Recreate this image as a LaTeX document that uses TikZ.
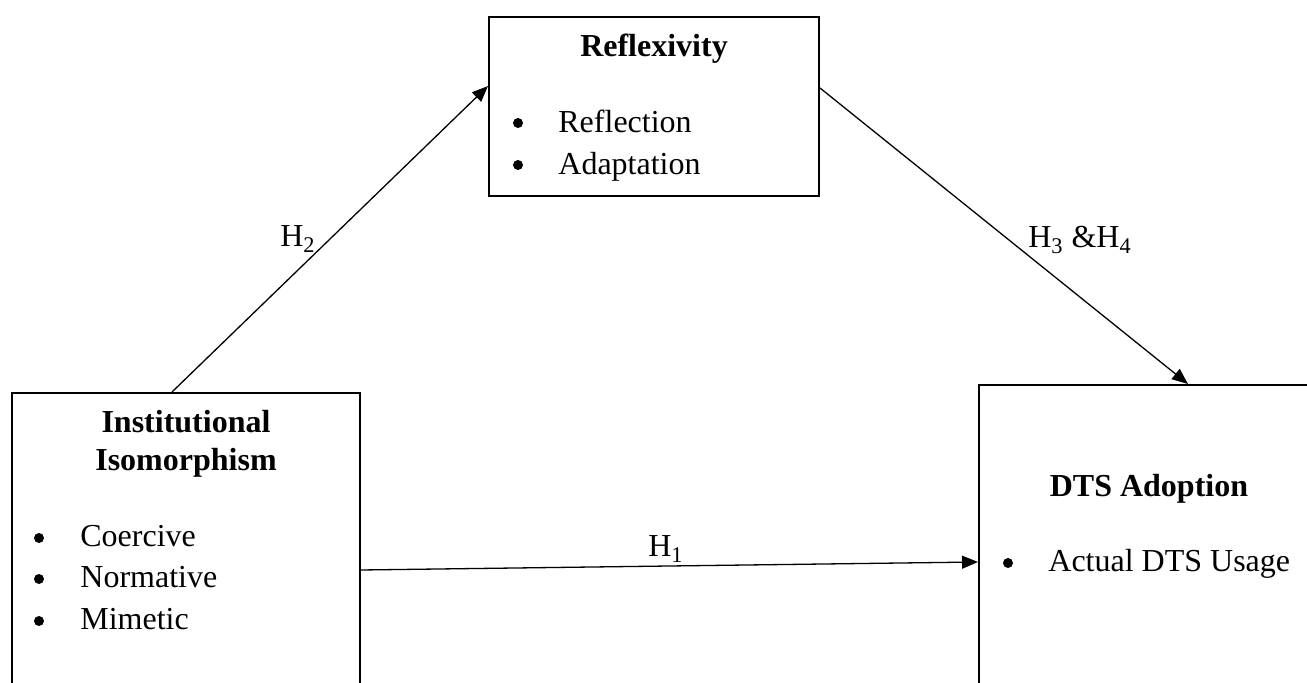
\documentclass[tikz,border=0pt]{standalone}
\usepackage{fontspec}
\setmainfont{Liberation Serif}
\usetikzlibrary{calc,arrows.meta}
\tikzset{
% boxes, texts and arrows of the model
frame box/.style={rectangle,draw,line width=1pt,anchor=north west,inner sep=0},
head text/.style={font=\fontsize{16}{19}\selectfont\bfseries,anchor=base,inner sep=0},
item text/.style={font=\fontsize{16}{19}\selectfont,anchor=base west,inner sep=0},
dot node/.style={circle,fill=black,inner sep=0,minimum size=5pt},
hyp text/.style={font=\fontsize{16}{19}\selectfont,anchor=base,inner sep=0},
path arrow/.style={line width=0.65pt,-{Triangle[length=8pt,width=6.5pt]}}
}

\begin{document}
\begin{tikzpicture}[x=0.5pt,y=-0.5pt]
  \useasboundingbox (0,0) rectangle (1307,683);
  \clip (0,0) rectangle (1307,683);

  % the three boxes
  \node[frame box, minimum width=165pt, minimum height=89.5pt] (refl) at (488,16) {};
  \node[frame box, minimum width=174pt, minimum height=164pt] (inst) at (11,392) {};
  \node[frame box, minimum width=181pt, minimum height=168pt] (dts) at (978,384) {};

  % Reflexivity
  \node[head text] (reflhead) at (654,57) {Reflexivity};
  \node[dot node] (refldota) at (518,123) {};
  \node[item text] (reflitema) at (558,133) {Reflection};
  \node[dot node] (refldotb) at (518,165) {};
  \node[item text] (reflitemb) at (558,175) {Adaptation};

  % Institutional Isomorphism
  \node[head text] (insthead) at (186,433) {Institutional};
  \node[head text] (instheadb) at (186,471) {Isomorphism};
  \node[dot node] (instdota) at (39,538) {};
  \node[item text] (institema) at (80,547) {Coercive};
  \node[dot node] (instdotb) at (39,579) {};
  \node[item text] (institemb) at (80,588) {Normative};
  \node[dot node] (instdotc) at (39,621) {};
  \node[item text] (institemc) at (80,630) {Mimetic};

  % DTS Adoption
  \node[head text] (dtshead) at (1149,497) {DTS Adoption};
  \node[dot node] (dtsdot) at (1008,563) {};
  \node[item text] (dtsitem) at (1048,572) {Actual DTS Usage};

  % hypotheses
  \draw[path arrow] ($(inst.north west)+(161,0)$) -- ($(refl.north west)+(0,70)$);
  \draw[path arrow] ($(refl.north east)+(0,72)$) -- ($(dts.north west)+(210,0)$);
  \draw[path arrow] ($(inst.north east)+(0,178)$) -- ($(dts.north west)+(0,178)$);

  \node[hyp text] (htwo) at (298,247) {H\textsubscript{2}};
  \node[hyp text] (hthree) at (1080,248) {H\textsubscript{3} \&H\textsubscript{4}};
  \node[hyp text] (hone) at (666,557) {H\textsubscript{1}};
\end{tikzpicture}
\end{document}
